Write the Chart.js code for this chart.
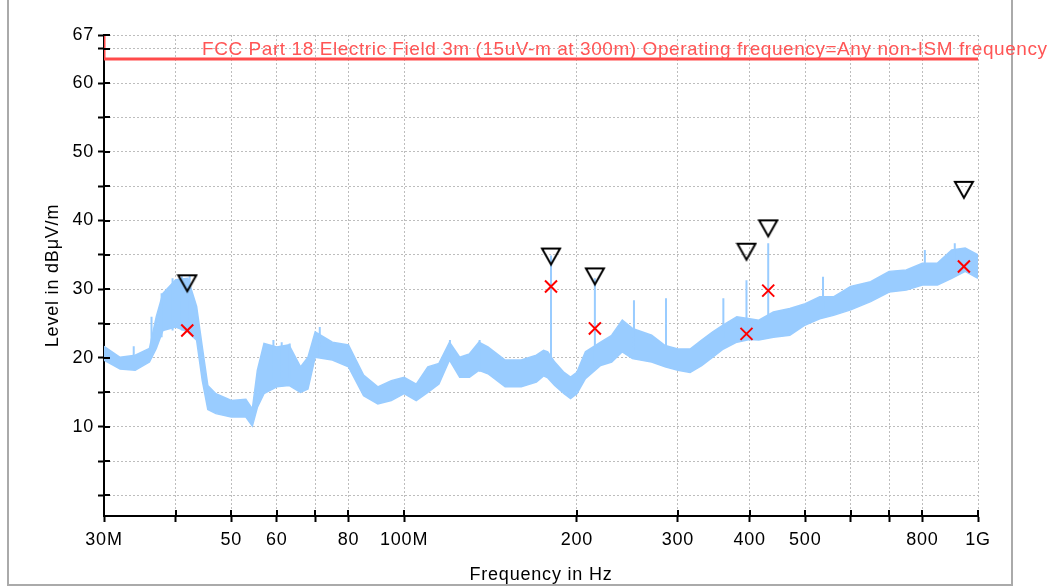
<!DOCTYPE html>
<html>
<head>
<meta charset="utf-8">
<script src="https://cdn.jsdelivr.net/npm/chart.js@4.4.1/dist/chart.umd.min.js"></script>
<style>
  html, body { margin: 0; padding: 0; background: #fff; }
</style>
</head>
<body>
<canvas id="grafico" width="1053" height="587"></canvas>
<script>
// frecuencias en MHz, niveles en dBuV/m
const frecuencias = [30, 32, 34, 36, 37, 38, 40, 42, 43.5, 44.5, 45.5, 47, 50, 53, 54.4, 55.5, 57, 60, 63, 66, 68, 70, 75, 80, 85, 90, 95, 100, 105, 110, 115, 120, 125, 130, 135, 140, 150, 160, 170, 175, 178, 183, 190, 195, 200, 207, 220, 230, 240, 250, 270, 285, 300, 315, 330, 345, 360, 380, 400, 415, 440, 470, 500, 530, 560, 600, 650, 700, 750, 800, 850, 900, 950, 1000];
const nivelMax = [21.7, 20.1, 20.4, 21.4, 26.0, 29.4, 31.4, 31.6, 27.5, 21.6, 16.0, 14.8, 13.8, 14.0, 12.6, 18.2, 22.1, 21.6, 21.9, 18.7, 20.1, 23.8, 22.3, 21.9, 17.5, 15.8, 16.7, 17.2, 16.2, 18.7, 19.2, 22.3, 20.1, 20.6, 22.3, 21.6, 19.7, 19.7, 20.4, 21.1, 20.9, 19.4, 17.9, 17.2, 17.9, 20.9, 22.3, 23.3, 25.5, 24.3, 23.3, 21.8, 21.3, 21.3, 22.6, 23.8, 24.8, 26.0, 25.7, 25.5, 26.7, 27.2, 27.9, 28.9, 28.9, 30.4, 31.1, 32.6, 32.8, 33.8, 33.8, 35.7, 36.0, 35.0];
const nivelMin = [19.7, 18.4, 18.2, 19.4, 21.4, 24.0, 24.5, 23.8, 22.6, 16.7, 12.5, 11.9, 11.4, 11.4, 10.1, 12.8, 14.8, 15.8, 16.0, 15.0, 15.5, 20.1, 19.7, 18.7, 14.5, 13.3, 13.8, 14.8, 13.8, 15.0, 16.2, 19.7, 17.2, 17.2, 18.2, 17.7, 15.8, 15.8, 16.5, 17.4, 17.1, 16.0, 14.8, 14.1, 14.8, 17.0, 18.9, 19.4, 20.9, 19.9, 19.4, 18.7, 18.2, 17.9, 18.9, 20.1, 21.3, 22.3, 22.7, 22.6, 23.0, 23.3, 24.8, 25.7, 26.2, 27.0, 28.2, 29.6, 29.9, 30.6, 30.6, 31.6, 32.6, 31.6];

// picos estrechos de la traza
const picosFrec = [33.8, 36.3, 37.8, 39.5, 41.0, 42.3, 59.2, 61.2, 63.2, 71.3, 120.2, 135.4, 180.3, 215, 251.5, 286, 360, 395, 431, 537, 808, 911];
const picosBase = [19, 20, 23, 24, 24, 24, 17, 17, 17, 20, 20, 18, 17, 19, 21, 20, 23, 24, 24, 27, 31, 32];
const picosNivel = [21.7, 26.0, 29.4, 31.6, 31.9, 32.0, 22.6, 22.3, 22.1, 24.5, 22.6, 22.6, 34.9, 31.6, 28.4, 28.7, 28.7, 31.3, 36.7, 31.8, 35.7, 36.7];

// marcadores: pico (triangulo) y cuasi-pico (x roja)
const marcasFrec = [41.9, 180.3, 215, 395, 431, 945];
const marcasPico = [29.7, 33.6, 30.7, 34.3, 37.7, 43.3];
const marcasQP = [24.0, 30.4, 24.3, 23.5, 29.8, 33.3];

const limiteFrec = [30, 30, 1000];
const limiteNivel = [67, 63.5, 63.5];
const textoLimite = 'FCC Part 18 Electric Field 3m (15uV-m at 300m) Operating frequency=Any non-ISM frequency';

const ticksX = [30, 40, 50, 60, 70, 80, 100, 200, 300, 400, 500, 600, 700, 800, 1000];
const etiquetasX = ['30M', '', '50', '60', '', '80', '100M', '200', '300', '400', '500', '', '', '800', '1G'];
const ticksY = [0, 5, 10, 15, 20, 25, 30, 35, 40, 45, 50, 55, 60, 65, 67];
const etiquetasY = ['', '', '10', '', '20', '', '30', '', '40', '', '50', '', '60', '', '67'];

const colorTraza = 'rgb(153, 204, 255)';
const fuente = 'Liberation Sans';

function crearTriangulo() {
    const c = document.createElement('canvas');
    c.width = 22;
    c.height = 40;
    const g = c.getContext('2d');
    g.strokeStyle = '#000';
    g.lineWidth = 2;
    g.beginPath();
    g.moveTo(2, 4);
    g.lineTo(20, 4);
    g.lineTo(11, 20);
    g.closePath();
    g.stroke();
    return c;
}

const datosPicos = [];
picosFrec.forEach((f, i) => {
    datosPicos.push({ x: f, y: picosBase[i] });
    datosPicos.push({ x: f, y: picosNivel[i] });
    datosPicos.push({ x: f, y: null });
});

const marco = {
    id: 'marco',
    beforeDraw(chart) {
        const ctx = chart.ctx;
        ctx.save();
        ctx.fillStyle = '#fff';
        ctx.fillRect(0, 0, chart.width, chart.height);
        ctx.strokeStyle = '#aaaaaa';
        ctx.lineWidth = 2;
        ctx.beginPath();
        ctx.moveTo(8, 0);
        ctx.lineTo(8, 585);
        ctx.lineTo(1012, 585);
        ctx.lineTo(1012, 0);
        ctx.stroke();
        ctx.restore();
        ctx.letterSpacing = '0.8px';
    },
    afterDatasetsDraw(chart) {
        const ctx = chart.ctx;
        const area = chart.chartArea;
        const sx = chart.scales.x;
        const sy = chart.scales.y;
        // las marcas de los ejes cruzan hacia dentro
        ctx.save();
        ctx.strokeStyle = '#000';
        ctx.lineWidth = 2;
        ctx.beginPath();
        sy.ticks.forEach(t => {
            const py = Math.round(sy.getPixelForValue(t.value));
            ctx.moveTo(area.left, py);
            ctx.lineTo(area.left + 6, py);
        });
        sx.ticks.forEach(t => {
            const px = Math.round(sx.getPixelForValue(t.value));
            ctx.moveTo(px, area.bottom);
            ctx.lineTo(px, area.bottom - 6);
        });
        ctx.stroke();
        ctx.restore();

        const y = sy.getPixelForValue(limiteNivel[2]);
        ctx.save();
        ctx.font = '19px "' + fuente + '"';
        ctx.letterSpacing = '0px';
        const w = ctx.measureText(textoLimite).width;
        ctx.letterSpacing = ((845 - w) / (textoLimite.length - 1)) + 'px';
        ctx.fillStyle = 'rgb(255, 85, 85)';
        ctx.textBaseline = 'alphabetic';
        ctx.textAlign = 'left';
        ctx.fillText(textoLimite, area.left + 98, y - 4);
        ctx.restore();
    }
};

new Chart(document.getElementById('grafico'), {
    type: 'line',
    data: {
        datasets: [{
            label: 'QP',
            data: marcasFrec.map((f, i) => ({ x: f, y: marcasQP[i] })),
            showLine: false,
            pointStyle: 'crossRot',
            pointRadius: 8.5,
            borderColor: '#ff0000',
            borderWidth: 2,
            order: 0
        },
        {
            label: 'Peak',
            data: marcasFrec.map((f, i) => ({ x: f, y: marcasPico[i] })),
            showLine: false,
            pointStyle: crearTriangulo(),
            pointRadius: 10,
            order: 1
        },
        {
            label: 'Limite',
            data: limiteFrec.map((f, i) => ({ x: f, y: limiteNivel[i] })),
            borderColor: 'rgb(255, 75, 75)',
            borderWidth: 3,
            pointRadius: 0,
            order: 2
        },
        {
            label: 'Picos',
            data: datosPicos,
            borderColor: colorTraza,
            borderWidth: 2,
            pointRadius: 0,
            spanGaps: false,
            order: 3
        },
        {
            label: 'Max',
            data: frecuencias.map((f, i) => ({ x: f, y: nivelMax[i] })),
            borderColor: colorTraza,
            backgroundColor: colorTraza,
            borderWidth: 1.5,
            pointRadius: 0,
            fill: '+1',
            order: 4
        },
        {
            label: 'Min',
            data: frecuencias.map((f, i) => ({ x: f, y: nivelMin[i] })),
            borderColor: colorTraza,
            borderWidth: 1.5,
            pointRadius: 0,
            fill: false,
            order: 5
        }]
    },
    options: {
        responsive: false,
        animation: false,
        layout: {
            padding: { left: 40, right: 75, top: 35, bottom: 0 }
        },
        plugins: {
            legend: { display: false },
            tooltip: { enabled: false }
        },
        scales: {
            x: {
                type: 'logarithmic',
                min: 30,
                max: 1000,
                afterBuildTicks: s => { s.ticks = ticksX.map(v => ({ value: v })); },
                afterFit: s => { s.height = 71; },
                ticks: {
                    autoSkip: false,
                    maxRotation: 0,
                    color: '#000',
                    padding: 7,
                    font: { family: fuente, size: 18 },
                    callback: (v, i) => etiquetasX[i]
                },
                grid: {
                    color: '#bdbdbd',
                    lineWidth: 1,
                    tickColor: '#000',
                    tickWidth: 2,
                    tickLength: 6,
                    tickBorderDash: []
                },
                border: { color: '#000', width: 2, dash: [2, 2] },
                title: {
                    display: true,
                    text: 'Frequency in Hz',
                    color: '#000',
                    font: { family: fuente, size: 18 },
                    padding: { top: 0, bottom: 1 }
                }
            },
            y: {
                type: 'linear',
                min: -3,
                max: 67,
                afterBuildTicks: s => { s.ticks = ticksY.map(v => ({ value: v })); },
                afterFit: s => { s.width = 64; },
                ticks: {
                    autoSkip: false,
                    color: '#000',
                    padding: 4,
                    font: { family: fuente, size: 18 },
                    callback: (v, i) => etiquetasY[i]
                },
                grid: {
                    color: '#bdbdbd',
                    lineWidth: 1,
                    tickColor: '#000',
                    tickWidth: 2,
                    tickLength: 6,
                    tickBorderDash: []
                },
                border: { color: '#000', width: 2, dash: [2, 2] },
                title: {
                    display: true,
                    text: 'Level in dBμV/m',
                    color: '#000',
                    font: { family: fuente, size: 18 },
                    padding: { top: 2, bottom: 0 }
                }
            }
        }
    },
    plugins: [marco]
});
</script>
</body>
</html>
